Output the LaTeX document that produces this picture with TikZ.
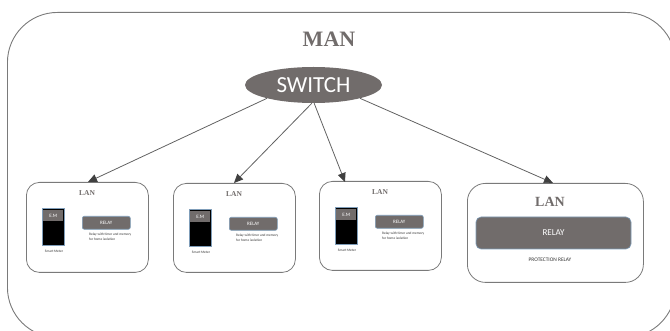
\documentclass[tikz,border=0pt]{standalone}
\usepackage{fontspec}
\setmainfont{Liberation Serif}
\setsansfont{Carlito}
\usetikzlibrary{shapes.geometric,arrows.meta}
\definecolor{gfill}{HTML}{716C6B}
\definecolor{gline}{HTML}{7A7A7A}
\definecolor{blueedge}{HTML}{7F9DB9}
\tikzset{
  x=1pt,y=-1pt,
  lanbox/.style={draw=gline,line width=.8pt,rounded corners=13pt,fill=white,inner sep=0pt,anchor=north west},
  titletext/.style={text=gfill,inner sep=0pt},
  bar/.style={draw=blueedge,line width=.6pt,fill=gfill,rounded corners=2pt,text=white,font=\sffamily,inner sep=0pt},
  meter/.style={draw=blueedge,line width=.5pt,fill=black,inner sep=0pt,anchor=north west},
  captext/.style={font=\sffamily\fontsize{3.5}{4.9}\selectfont,text=black!80,inner sep=0pt,align=left},
  link/.style={draw=gline!80!black,line width=.8pt,-{Triangle[length=9pt,width=8pt,color=black!75]}}
}
\newcommand{\smallset}[3]{% prefix, left of box, top of box
  \node[titletext,font=\bfseries\fontsize{7.5}{9}\selectfont] (#1t) at (#2+61,#3+11) {LAN};
  \node[meter,minimum width=22pt,minimum height=37pt] (#1m) at (#2+16,#3+26) {};
  \node[fill=gfill,minimum width=20pt,minimum height=11pt,inner sep=0pt,text=white,font=\sffamily\fontsize{5}{6}\selectfont,anchor=north] (#1e) at ([yshift=-2pt]#1m.north) {E.M};
  \node[bar,minimum width=48pt,minimum height=13pt,anchor=north west,font=\sffamily\fontsize{5}{6}\selectfont] (#1r) at (#2+56,#3+34) {RELAY};
  \node[captext,anchor=north west] (#1c) at (#2+63,#3+51) {Relay with timer and memory\\for home isolation};
  \node[captext,anchor=center] (#1s) at (#2+28,#3+69) {Smart Meter};
}
\begin{document}
\begin{tikzpicture}
\useasboundingbox (0,0) rectangle (670,331);
\begin{scope}
\clip (0,0) rectangle (670,331);
\node[draw=gline,line width=.9pt,rounded corners=50pt,minimum width=668pt,minimum height=325pt,anchor=north west,inner sep=0pt] (man) at (7,12) {};
\end{scope}
\node[titletext,font=\bfseries\fontsize{22}{24}\selectfont] (mant) at (329,39) {MAN};
\node[ellipse,fill=gfill,minimum width=137pt,minimum height=36pt,inner sep=0pt,text=white,font=\sffamily\fontsize{23}{25}\selectfont] (sw) at (313.5,85) {SWITCH};
\node[lanbox,minimum width=122pt,minimum height=90pt] (a) at (26,182) {};
\node[lanbox,minimum width=122pt,minimum height=89pt] (b) at (173,183) {};
\node[lanbox,minimum width=122pt,minimum height=89pt] (c) at (319,181) {};
\node[lanbox,rounded corners=18pt,minimum width=176pt,minimum height=99pt] (d) at (467,183) {};
\smallset{p}{26}{182}
\smallset{q}{173}{183}
\smallset{s}{319}{181}
\node[titletext,font=\bfseries\fontsize{14}{16}\selectfont] (dt) at (550,202) {LAN};
\node[bar,rounded corners=5pt,minimum width=155pt,minimum height=32pt,font=\sffamily\fontsize{9}{11}\selectfont] (dr) at (553.5,233) {RELAY};
\node[captext,font=\sffamily\fontsize{5.4}{6.5}\selectfont,anchor=center] (dc) at (550,260) {PROTECTION RELAY};
\coordinate (atip) at (88,182);
\coordinate (btip) at (234,183);
\coordinate (ctip) at (345,182);
\coordinate (dtip) at (553,183);
\draw[link] (sw.196) -- (atip);
\draw[link] (sw.265) -- (btip);
\draw[link] (sw.272) -- (ctip);
\draw[link] (sw.344) -- (dtip);
\end{tikzpicture}
\end{document}
